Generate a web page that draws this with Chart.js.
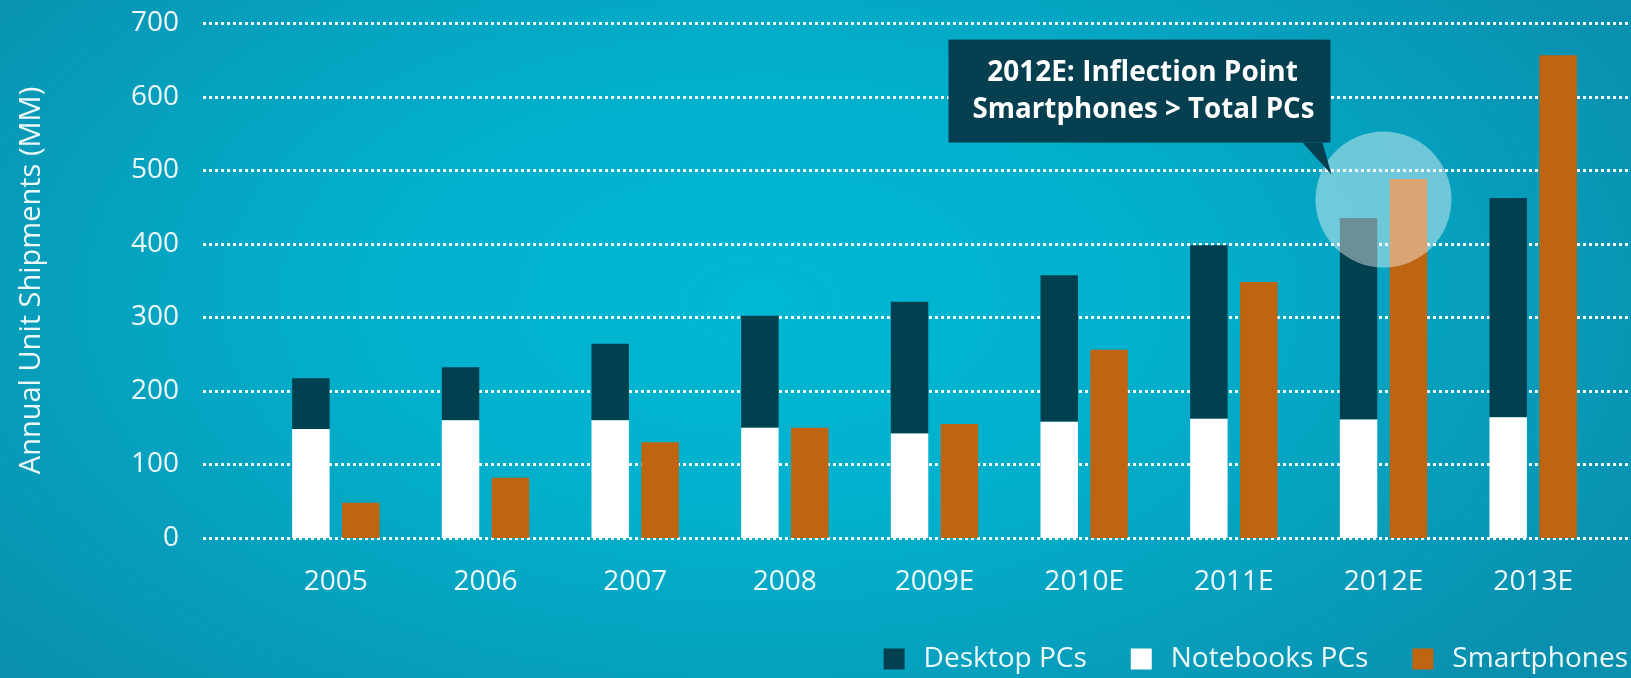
<!DOCTYPE html>
<html>
<head>
<meta charset="utf-8">
<script src="https://cdn.jsdelivr.net/npm/chart.js@4.4.1/dist/chart.umd.min.js"></script>
<style>
  html, body { margin: 0; padding: 0; }
  body {
    width: 1631px; height: 678px; overflow: hidden;
    background: radial-gradient(ellipse 1000px 560px at 760px 300px, #00b8d4 0%, #02b0cc 40%, #0a8fae 100%);
  }
  canvas { display: block; }
</style>
</head>
<body>
<canvas id="chart" width="1631" height="678"></canvas>
<script>
const years = ['2005', '2006', '2007', '2008', '2009E', '2010E', '2011E', '2012E', '2013E'];
const desktopPCs = [69, 72, 104, 152, 179, 199, 236, 274, 298];
const notebookPCs = [148, 160, 160, 150, 142, 158, 162, 161, 164];
const smartphones = [48, 82, 130, 150, 155, 256, 348, 488, 656];
const yTicks = [0, 100, 200, 300, 400, 500, 600, 700];

const FONT = "'Open Sans', sans-serif";
const TEXT = 'rgba(255,255,255,0.93)';
const DESK = '#01404f';
const NOTE = '#ffffff';
const PHONE = '#bf6410';

// dotted guide lines, wider than the plot area
const dottedGrid = {
    id: 'dottedGrid',
    beforeDatasetsDraw(chart) {
        const ctx = chart.ctx;
        const y = chart.scales.y;
        ctx.save();
        ctx.strokeStyle = 'rgba(255,255,255,0.95)';
        ctx.lineWidth = 3;
        ctx.setLineDash([3, 3]);
        yTicks.forEach(v => {
            const py = Math.round(y.getPixelForValue(v)) + 0.5;
            ctx.beginPath();
            ctx.moveTo(203, py);
            ctx.lineTo(1628, py);
            ctx.stroke();
        });
        ctx.restore();
    }
};

// highlight circle + callout
const callout = {
    id: 'callout',
    afterDatasetsDraw(chart) {
        const ctx = chart.ctx;
        const cx = chart.scales.x.getPixelForValue(7);
        const cy = chart.scales.y.getPixelForValue(460);
        ctx.save();
        ctx.fillStyle = 'rgba(255,255,255,0.42)';
        ctx.beginPath();
        ctx.arc(cx, cy, 68, 0, Math.PI * 2);
        ctx.fill();

        const tipX = cx - 52, tipY = cy - 25;
        const bx = tipX - 383, by = tipY - 135, bw = 382, bh = 103;
        ctx.fillStyle = '#063f50';
        ctx.fillRect(bx, by, bw, bh);
        ctx.beginPath();
        ctx.moveTo(bx + bw - 28, by + bh);
        ctx.lineTo(bx + bw - 8, by + bh);
        ctx.lineTo(tipX, tipY);
        ctx.closePath();
        ctx.fill();

        ctx.fillStyle = '#ffffff';
        ctx.font = "bold 28px " + FONT;
        ctx.textAlign = 'center';
        ctx.textBaseline = 'middle';
        ctx.fillText('2012E: Inflection Point', bx + 194, by + 33, 312);
        ctx.fillText('Smartphones > Total PCs', bx + 195, by + 70, 342);
        ctx.restore();
    }
};

// legend at bottom right
const legendItems = [
    { label: 'Desktop PCs', color: DESK },
    { label: 'Notebooks PCs', color: NOTE },
    { label: 'Smartphones', color: PHONE }
];
const bottomLegend = {
    id: 'bottomLegend',
    afterDraw(chart) {
        const ctx = chart.ctx;
        ctx.save();
        ctx.font = "28px " + FONT;
        ctx.textBaseline = 'middle';
        ctx.textAlign = 'left';
        const cy = 659;
        let x = 1628;
        for (let i = legendItems.length - 1; i >= 0; i--) {
            const it = legendItems[i];
            const w = ctx.measureText(it.label).width;
            const tx = x - w;
            ctx.fillStyle = TEXT;
            ctx.fillText(it.label, tx, cy);
            ctx.fillStyle = it.color;
            ctx.fillRect(tx - 19 - 21, cy - 10.5, 21, 21);
            x = tx - 19 - 21 - 44;
        }
        ctx.restore();
    }
};

new Chart(document.getElementById('chart').getContext('2d'), {
    type: 'bar',
    data: {
        labels: years,
        datasets: [
            { label: 'Notebooks PCs', data: notebookPCs, backgroundColor: NOTE, stack: 'pc' },
            { label: 'Desktop PCs', data: desktopPCs, backgroundColor: DESK, stack: 'pc' },
            { label: 'Smartphones', data: smartphones, backgroundColor: PHONE, stack: 'phone' }
        ]
    },
    options: {
        responsive: false,
        animation: false,
        categoryPercentage: 0.667,
        barPercentage: 0.75,
        layout: { padding: { top: 23, right: 23, bottom: 0, left: 0 } },
        plugins: { legend: { display: false }, tooltip: { enabled: false } },
        scales: {
            x: {
                stacked: true,
                grid: { display: false, drawTicks: false },
                border: { display: false },
                ticks: { color: TEXT, font: { family: FONT, size: 28 }, padding: 27, maxRotation: 0 },
                afterFit(scale) { scale.height = 140; }
            },
            y: {
                stacked: true,
                min: 0,
                max: 700,
                grid: { display: false, drawTicks: false },
                border: { display: false },
                ticks: { stepSize: 100, color: TEXT, font: { family: FONT, size: 28 }, padding: 82 },
                title: {
                    display: true,
                    text: 'Annual Unit Shipments (MM)',
                    color: TEXT,
                    font: { family: FONT, size: 29 },
                    padding: { top: 14, bottom: 0 }
                },
                afterFit(scale) {
                    scale.width = 261;
                    scale.paddingTop = 10;
                    scale.paddingBottom = 10;
                }
            }
        }
    },
    plugins: [dottedGrid, callout, bottomLegend]
});
</script>
</body>
</html>
